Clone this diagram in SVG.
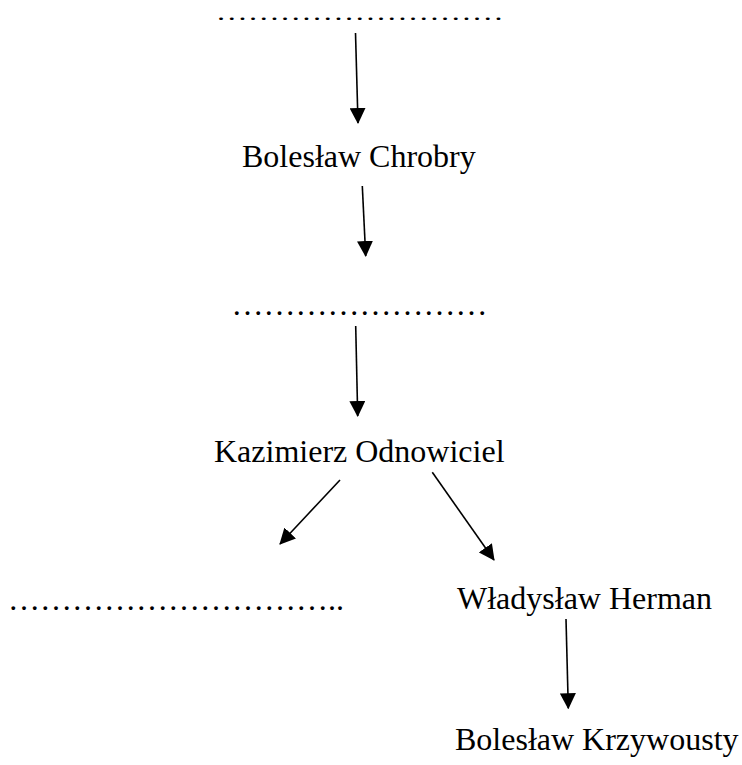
<svg xmlns="http://www.w3.org/2000/svg" width="742" height="765" viewBox="0 0 742 765">
<defs>
<style>
.t{font-family:"Liberation Serif","Times New Roman",serif;font-size:32px;fill:#000}
.c{stroke:#000;stroke-width:1.6;fill:none}
</style>
<marker id="ah" markerUnits="userSpaceOnUse" viewBox="0 0 16 16" markerWidth="16" markerHeight="16" refX="15" refY="8" orient="auto">
<path d="M0,0 L16,8 L0,16 z" fill="#000"/>
</marker>
</defs>
<rect width="742" height="765" fill="#fff"/>
<g id="node-top"><text class="t" x="215.7" y="29.5" transform="scale(1,0.68)">………………………</text></g>
<g id="node-chrobry"><text class="t" x="242" y="167">Bolesław Chrobry</text></g>
<g id="node-mid"><text class="t" x="231.4" y="314.8">……………………</text></g>
<g id="node-kazimierz"><text class="t" x="214" y="462">Kazimierz Odnowiciel</text></g>
<g id="node-left"><text class="t" x="8" y="609.8">…………………………..</text></g>
<g id="node-wladyslaw"><text class="t" x="457" y="609">Władysław Herman</text></g>
<g id="node-krzywousty"><text class="t" x="455" y="750">Bolesław Krzywousty</text></g>
<g id="connectors">
<line class="c" x1="355.5" y1="33" x2="358" y2="123" marker-end="url(#ah)"/>
<line class="c" x1="362.3" y1="186" x2="365.7" y2="256" marker-end="url(#ah)"/>
<line class="c" x1="355.7" y1="326" x2="357.7" y2="416" marker-end="url(#ah)"/>
<line class="c" x1="340" y1="480" x2="280" y2="544" marker-end="url(#ah)"/>
<line class="c" x1="432.3" y1="472.3" x2="494" y2="560" marker-end="url(#ah)"/>
<line class="c" x1="566" y1="619" x2="568.3" y2="708.3" marker-end="url(#ah)"/>
</g>
</svg>
